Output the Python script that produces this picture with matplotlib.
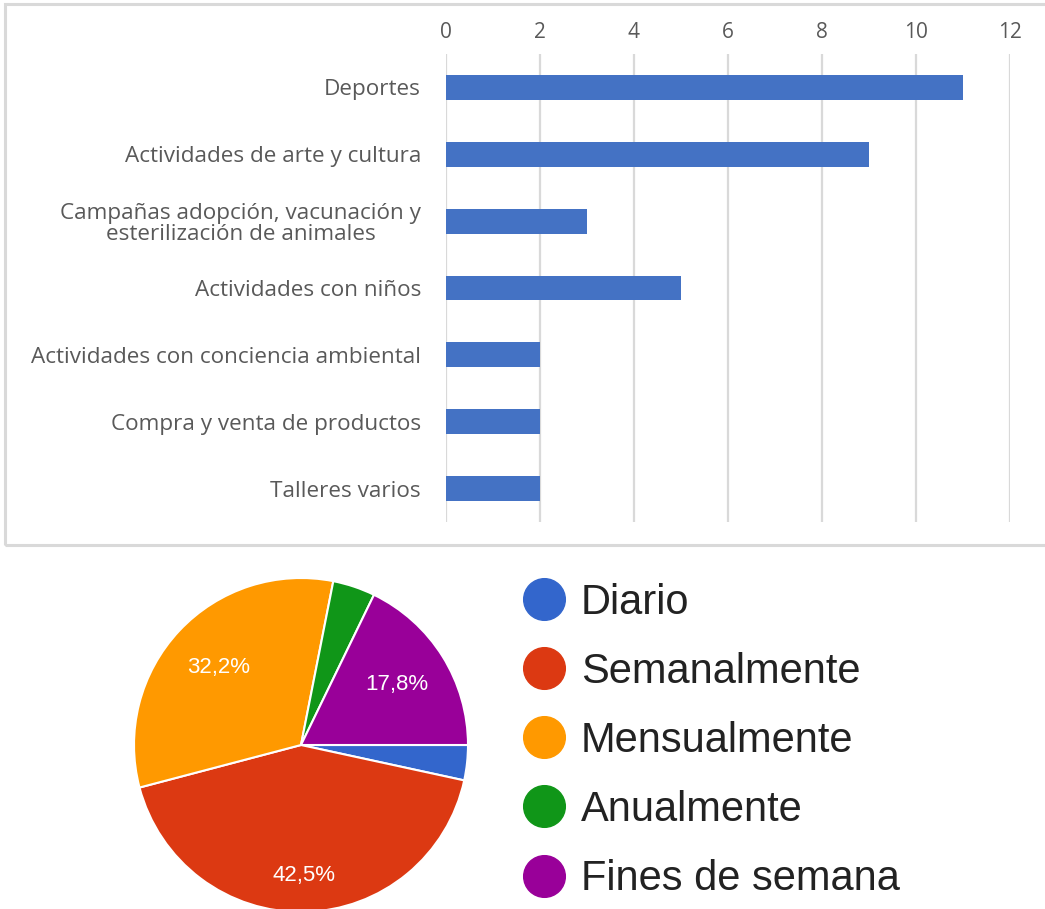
import matplotlib.pyplot as plt
from matplotlib.lines import Line2D
from matplotlib.patches import Rectangle
import numpy as np

# Bar chart data
actividades = ['Deportes', 'Actividades de arte y cultura',
               'Campañas adopción, vacunación y\nesterilización de animales',
               'Actividades con niños', 'Actividades con conciencia ambiental',
               'Compra y venta de productos', 'Talleres varios']
cantidades = [11, 9, 3, 5, 2, 2, 2]
x_ticks = [0, 2, 4, 6, 8, 10, 12]

# Pie chart data
frecuencias = ['Diario', 'Semanalmente', 'Mensualmente', 'Anualmente', 'Fines de semana']
porcentajes = [3.4, 42.5, 32.2, 4.1, 17.8]
colores_pie = ['#3366cc', '#dc3912', '#ff9900', '#109618', '#990099']

fig = plt.figure(figsize=(10.45, 9.09), dpi=100)

# Grey frame around the bar chart
fig.patches.append(Rectangle((5 / 1045, 1 - 545 / 909), 1.1, 541 / 909,
                             transform=fig.transFigure, fill=False,
                             edgecolor='#d9d9d9', linewidth=2.2))

# Horizontal bar chart
ax = fig.add_axes([446 / 1045, 1 - 522 / 909, 564 / 1045, 468 / 909])
y = np.arange(len(actividades))
ax.barh(y, cantidades, height=0.37, color='#4472c4', zorder=3)
ax.set_ylim(len(actividades) - 0.5, -0.5)
ax.set_xlim(0, 12)
ax.set_xticks(x_ticks)
ax.xaxis.tick_top()
ax.grid(axis='x', color='#d9d9d9', linewidth=1.6, zorder=0)
for s in ax.spines.values():
    s.set_visible(False)
ax.tick_params(axis='x', length=0, pad=8, labelsize=15, labelcolor='#595959')
ax.tick_params(axis='y', length=0, pad=18, labelsize=16.2, labelcolor='#595959')
ax.set_yticks(y)
ax.set_yticklabels(actividades)
for lbl in ax.get_xticklabels() + ax.get_yticklabels():
    lbl.set_fontfamily('Open Sans')
for lbl in ax.get_yticklabels():
    lbl.set_multialignment('center')
    lbl.set_linespacing(1.0)

# Pie chart
r = 167
pax = fig.add_axes([(301 - r) / 1045, (909 - 745 - r) / 909, 2 * r / 1045, 2 * r / 909])
wedges, _ = pax.pie(porcentajes, colors=colores_pie, startangle=0, counterclock=False,
                    wedgeprops=dict(edgecolor='white', linewidth=1.5))
pax.set_xlim(-1, 1)
pax.set_ylim(-1, 1)
pax.set_aspect('auto')

# Percentage labels on the larger slices
dist = {1: 0.78, 2: 0.68, 4: 0.68}
for i, d in dist.items():
    w = wedges[i]
    ang = np.deg2rad((w.theta1 + w.theta2) / 2)
    pax.text(d * np.cos(ang), d * np.sin(ang),
             f'{porcentajes[i]:.1f}'.replace('.', ',') + '%',
             color='white', fontsize=16, ha='center', va='center',
             fontfamily='Liberation Sans')

# Legend with round markers
handles = [Line2D([], [], marker='o', linestyle='none', markersize=30,
                  markerfacecolor=c, markeredgecolor=c) for c in colores_pie]
fig.legend(handles, frecuencias, loc='upper left', bbox_to_anchor=(481 / 1045, 1 - 545 / 909),
           frameon=False, prop={'family': 'Liberation Sans', 'size': 30},
           labelcolor='#222222', handletextpad=0.3, labelspacing=0.70, handlelength=1.2)

fig.savefig('out.png', dpi=100)
